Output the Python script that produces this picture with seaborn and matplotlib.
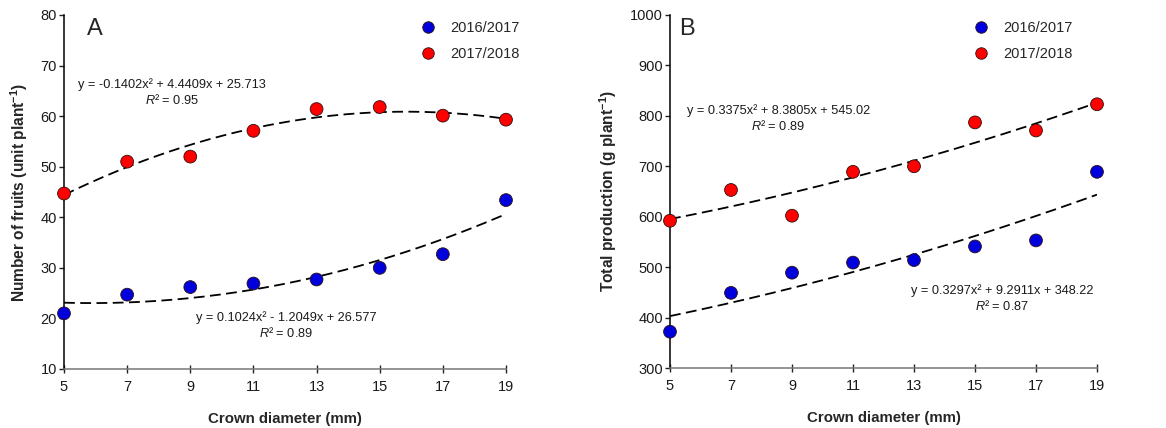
import numpy as np
import pandas as pd
import seaborn as sns
import matplotlib.pyplot as plt

# crown diameter classes (mm)
diameter = [5, 7, 9, 11, 13, 15, 17, 19]
seasons = ["2016/2017", "2017/2018"]

# A: number of fruits (unit plant-1)
fruits_1617 = [21.0, 24.7, 26.2, 26.9, 27.7, 30.0, 32.7, 43.4]
fruits_1718 = [44.7, 51.0, 52.0, 57.1, 61.4, 61.8, 60.1, 59.3]

# B: total production (g plant-1)
prod_1617 = [372, 449, 489, 509, 514, 541, 553, 689]
prod_1718 = [592, 653, 602, 689, 700, 787, 771, 823]

# printed quadratic fits (a, b, c) and R²
fit_fruits = {"2016/2017": (0.1024, -1.2049, 26.577), "2017/2018": (-0.1402, 4.4409, 25.713)}
fit_prod = {"2016/2017": (0.3297, 9.2911, 348.22), "2017/2018": (0.3375, 8.3805, 545.02)}
eq_fruits = {"2016/2017": ("y = 0.1024x² - 1.2049x + 26.577", "0.89"),
             "2017/2018": ("y = -0.1402x² + 4.4409x + 25.713", "0.95")}
eq_prod = {"2016/2017": ("y = 0.3297x² + 9.2911x + 348.22", "0.87"),
           "2017/2018": ("y = 0.3375x² + 8.3805x + 545.02", "0.89")}

sns.set_style("ticks")
plt.rcParams['font.family'] = ['Liberation Sans', 'DejaVu Sans']
plt.rcParams['mathtext.fontset'] = 'custom'
plt.rcParams['mathtext.rm'] = 'Liberation Sans'
plt.rcParams['mathtext.it'] = 'Liberation Sans:italic'
plt.rcParams['mathtext.bf'] = 'Liberation Sans:bold'

colors = {"2016/2017": "#0000dd", "2017/2018": "#ff0000"}

df_a = pd.DataFrame({"x": diameter * 2, "y": fruits_1617 + fruits_1718,
                     "season": [seasons[0]] * 8 + [seasons[1]] * 8})
df_b = pd.DataFrame({"x": diameter * 2, "y": prod_1617 + prod_1718,
                     "season": [seasons[0]] * 8 + [seasons[1]] * 8})

fig = plt.figure(figsize=(11.66, 4.28), dpi=100)
ax1 = fig.add_axes([64 / 1166, 1 - 369 / 428, 442 / 1166, 354 / 428])
ax2 = fig.add_axes([670 / 1166, 1 - 368 / 428, 427 / 1166, 353 / 428])


def draw(ax, df, fits, eqs, eq_pos, letter, letter_pos, ylim, yticks, ylabel, leg_x):
    xx = np.linspace(5, 19, 200)
    for s in seasons:
        a, b, c = fits[s]
        ax.plot(xx, a * xx ** 2 + b * xx + c, color="black", lw=1.3,
                dashes=(6, 3), zorder=2)
    sns.scatterplot(data=df, x="x", y="y", hue="season", palette=colors,
                    s=85, edgecolor="#301010", linewidth=0.6, ax=ax, zorder=3,
                    clip_on=False)
    ax.set_xlim(5, 19)
    ax.set_ylim(*ylim)
    ax.set_xticks(diameter)
    ax.set_yticks(yticks)
    ax.tick_params(labelsize=10.5, colors="#222222", labelcolor="#1a1a1a")
    ax.tick_params(axis="y", direction="out", length=3.5, width=1, pad=1.5)
    ax.tick_params(axis="x", direction="inout", length=6, width=1, pad=5)
    ax.set_xlabel("Crown diameter (mm)", fontsize=10.8, fontweight="bold",
                  labelpad=13)
    ax.set_ylabel(ylabel, fontsize=11.2, fontweight="bold", labelpad=8)
    sns.despine(ax=ax)
    ax.spines["bottom"].set_color("#777777")
    ax.spines["left"].set_color("black")
    for sp in ("bottom", "left"):
        ax.spines[sp].set_linewidth(1.1)
    ax.text(letter_pos[0], letter_pos[1], letter, fontsize=17,
            va="center", ha="center")
    for s in seasons:
        eq, r2 = eqs[s]
        ax.annotate(eq, eq_pos[s], xytext=(0, 5.5), textcoords="offset points",
                    fontsize=9.2, ha="center", va="center", color="#1a1a1a")
        ax.annotate("$\\mathit{R}$² = " + r2, eq_pos[s], xytext=(0, -5.5),
                    textcoords="offset points", fontsize=9.2, ha="center",
                    va="center", color="#1a1a1a")
    ax.legend(loc="upper right", bbox_to_anchor=(leg_x, 1.021), frameon=False,
              fontsize=10.5, handletextpad=0.5, labelspacing=0.85,
              markerscale=0.9, title=None)


draw(ax1, df_a, fit_fruits, eq_fruits,
     {"2017/2018": (8.42, 64.8), "2016/2017": (12.03, 18.6)},
     "A", (5.97, 77.3), (10, 80), range(10, 81, 10),
     "Number of fruits (unit plant$^{\\mathbf{-1}}$)", 1.06)
draw(ax2, df_b, fit_prod, eq_prod,
     {"2017/2018": (8.55, 796), "2016/2017": (15.89, 438)},
     "B", (5.56, 972.6), (300, 1000), range(300, 1001, 100),
     "Total production (g plant$^{\\mathbf{-1}}$)", 0.973)

fig.savefig("out.png", dpi=100)
